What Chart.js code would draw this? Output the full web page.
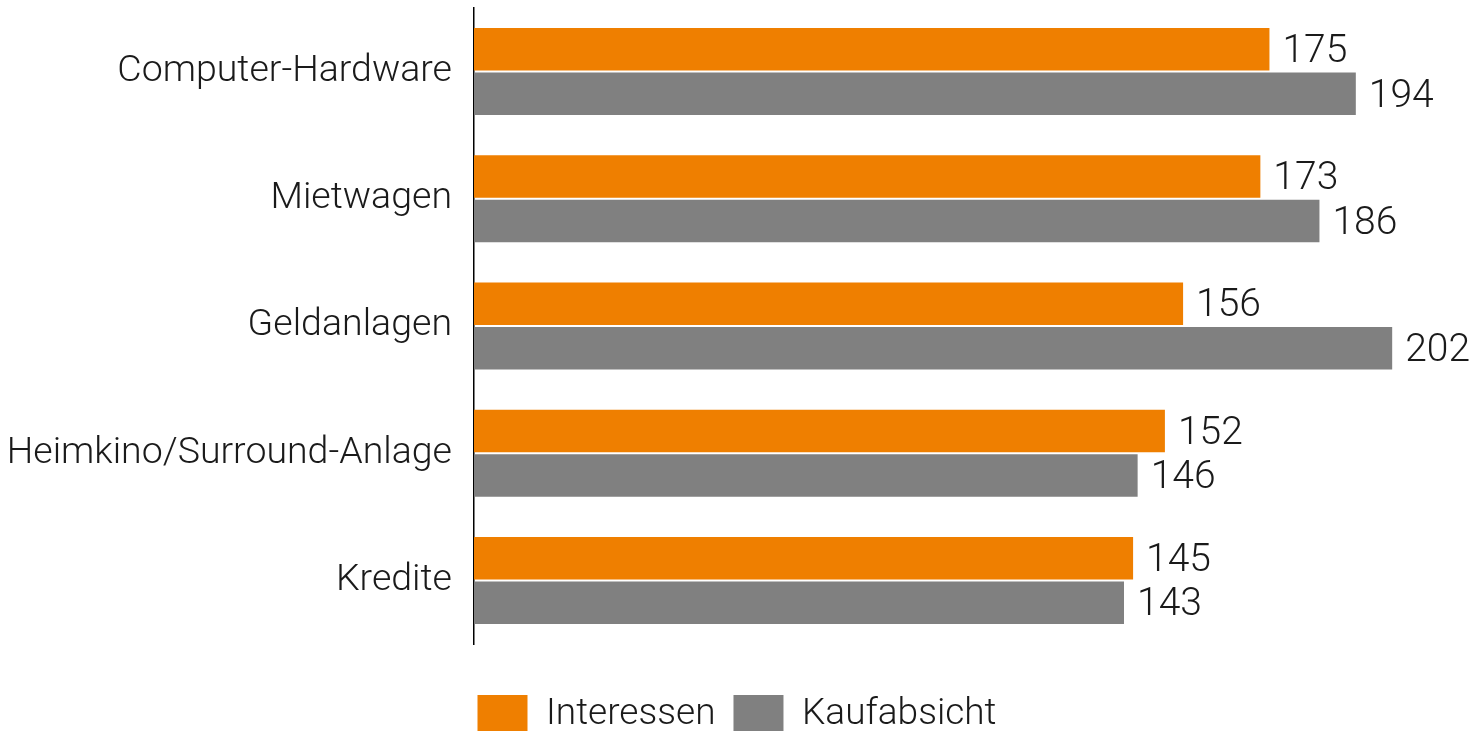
<!DOCTYPE html>
<html>
<head>
<meta charset="utf-8">
<script src="https://cdn.jsdelivr.net/npm/chart.js@4/dist/chart.umd.min.js"></script>
<style>
    html, body { margin: 0; padding: 0; background: #fff; overflow: hidden; }
    #wrap { width: 1476px; height: 731px; overflow: hidden; }
    #wrap canvas { display: block; }
</style>
</head>
<body>
<div id="wrap"><canvas id="chart" width="1476" height="745"></canvas></div>
<script>
// Chart data
const categories = ['Computer-Hardware', 'Mietwagen', 'Geldanlagen', 'Heimkino/Surround-Anlage', 'Kredite'];
const interessen = [175, 173, 156, 152, 145];
const kaufabsicht = [194, 186, 202, 146, 143];

const fontFamily = 'Roboto, "Liberation Sans", sans-serif';
const textColor = '#1a1a1a';

// Draw value labels right of each bar
const valueLabels = {
    id: 'valueLabels',
    afterDatasetsDraw(chart) {
        const ctx = chart.ctx;
        ctx.save();
        ctx.font = '300 39px ' + fontFamily;
        ctx.fillStyle = textColor;
        ctx.textAlign = 'left';
        ctx.textBaseline = 'middle';
        chart.data.datasets.forEach((ds, i) => {
            chart.getDatasetMeta(i).data.forEach((bar, j) => {
                ctx.fillText(ds.data[j], bar.x + 13, bar.y + 3);
            });
        });
        ctx.restore();
    }
};

const ctx = document.getElementById('chart').getContext('2d');
new Chart(ctx, {
    type: 'bar',
    data: {
        labels: categories,
        datasets: [
            {
                label: 'Interessen',
                data: interessen,
                backgroundColor: '#ef7f00',
                barPercentage: 0.955,
                categoryPercentage: 0.70
            },
            {
                label: 'Kaufabsicht',
                data: kaufabsicht,
                backgroundColor: '#808080',
                barPercentage: 0.955,
                categoryPercentage: 0.70
            }
        ]
    },
    options: {
        indexAxis: 'y',
        responsive: false,
        animation: false,
        layout: { padding: { top: 8, right: 2, left: 0, bottom: 0 } },
        scales: {
            x: {
                min: 0,
                max: 220,
                grid: { display: false },
                border: { display: false },
                ticks: { display: false },
                afterFit: scale => { scale.height = 33; }
            },
            y: {
                grid: { display: false },
                border: { display: true, color: '#000', width: 1.5 },
                ticks: {
                    color: textColor,
                    padding: 14,
                    font: { family: fontFamily, size: 37.5, weight: 300 }
                },
                afterFit: scale => {
                    scale.width = 474;
                    scale.paddingTop = 0;
                    scale.paddingBottom = 0;
                }
            }
        },
        plugins: {
            legend: {
                position: 'bottom',
                labels: {
                    boxWidth: 50,
                    boxHeight: 40,
                    padding: 18,
                    color: textColor,
                    font: { family: fontFamily, size: 37, weight: 300 }
                }
            },
            tooltip: { enabled: false }
        }
    },
    plugins: [valueLabels]
});
</script>
</body>
</html>
